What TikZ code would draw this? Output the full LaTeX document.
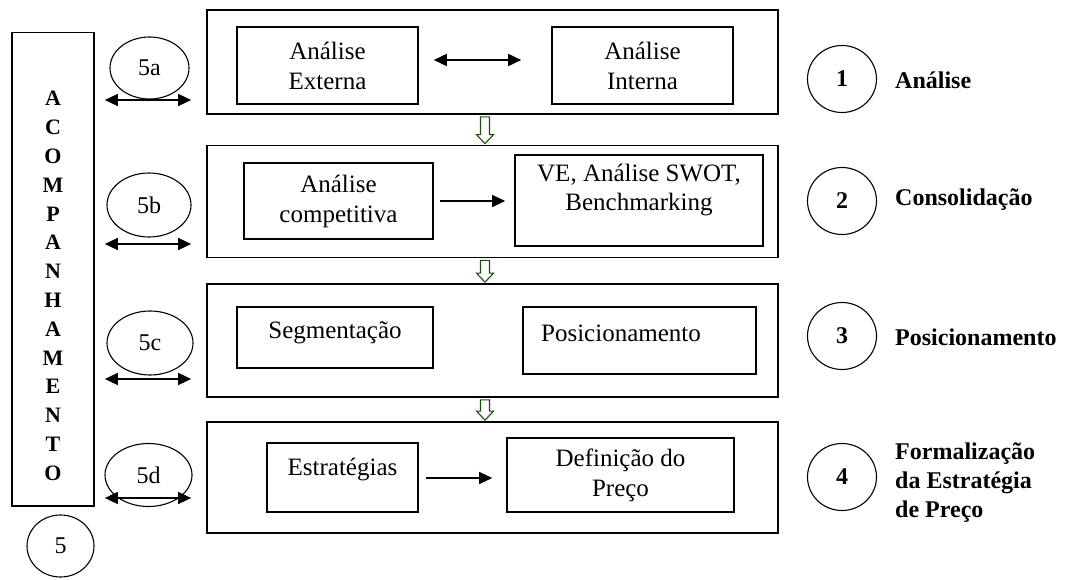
\documentclass[tikz,border=0pt]{standalone}
\usepackage{fontspec}
\setmainfont{Liberation Serif}
\usetikzlibrary{shapes.geometric,arrows.meta,calc}
\definecolor{flowgreen}{RGB}{25,80,15}
\tikzstyle{bigbox}=[draw, line width=1.7pt, minimum width=571pt, inner sep=0pt]
\tikzstyle{inbox}=[draw, line width=1.6pt, inner sep=0pt, align=center, font=\fontsize{25}{30}\selectfont]
\tikzstyle{intext}=[inner sep=0pt, align=center, font=\fontsize{25}{29}\selectfont]
\tikzstyle{oval}=[draw, ellipse, line width=1.1pt, inner sep=0pt, font=\fontsize{24}{28}\selectfont]
\tikzstyle{numcirc}=[draw, ellipse, line width=1.1pt, minimum width=69pt, minimum height=67pt, inner sep=0pt, font=\bfseries\fontsize{24}{28}\selectfont]
\tikzstyle{stage}=[anchor=west, align=left, inner sep=0pt, font=\bfseries\fontsize{24}{29}\selectfont]
\tikzstyle{both}=[{Triangle[length=13pt,width=12pt]}-{Triangle[length=13pt,width=12pt]}, line width=1.6pt]
\tikzstyle{onto}=[-{Triangle[length=13pt,width=12pt]}, line width=1.2pt]
\tikzstyle{flow}=[draw=flowgreen, line width=1.1pt, fill=white]
\newcommand{\flowdown}[2]{%
  \path[flow] let \p1=(#1.south), \p2=(#2.north) in
    (480.5pt,\y1-2pt) -- (489.5pt,\y1-2pt) -- (489.5pt,\y2+10pt) -- (493.5pt,\y2+10pt)
    -- (485pt,\y2+1pt) -- (476.5pt,\y2+10pt) -- (480.5pt,\y2+10pt) -- cycle;}

\begin{document}
\begin{tikzpicture}[x=1pt, y=-1pt]
\useasboundingbox (0,0) rectangle (1068,580);
% Acompanhamento
    \node[draw, line width=1.7pt, minimum width=82pt, minimum height=473.5pt, inner sep=0pt] (acomp) at (53,269.25) {};
    \node[align=center, inner sep=0pt, font=\bfseries\fontsize{22}{28.8}\selectfont] (acompt) at (53,286)
        {A\\C\\O\\M\\P\\A\\N\\H\\A\\M\\E\\N\\T\\O};
    \node[oval, minimum width=67pt, minimum height=62pt] (c5) at (60.5,546) {5};
% Stages
    \node[bigbox, minimum height=104pt] (ana) at (492.5,62) {};
    \node[bigbox, minimum height=112pt] (cons) at (492.5,201.5) {};
    \node[bigbox, minimum height=113pt] (posi) at (492.5,340.5) {};
    \node[bigbox, minimum height=111pt] (form) at (492.5,477.5) {};
% Inner boxes
    \node[inbox, minimum width=181pt, minimum height=77pt] (ext) at (327.5,65.5) {Análise\\Externa};
    \node[inbox, minimum width=181pt, minimum height=77pt] (int) at (642.5,65.5) {Análise\\Interna};
    \node[inbox, minimum width=189pt, minimum height=76pt] (comp) at (338.5,201) {Análise\\competitiva};
    \node[inbox, minimum width=248pt, minimum height=91pt] (ve) at (639,200.5) {};
    \node[intext] (vet) at (639,190) {VE, Análise SWOT,\\Benchmarking};
    \node[inbox, minimum width=196pt, minimum height=61pt] (segm) at (335,337.5) {};
    \node[intext] (segmt) at (335,333) {Segmentação};
    \node[inbox, minimum width=233pt, minimum height=67pt] (posbox) at (639.5,340.5) {};
    \node[intext] (post) at (621,333) {Posicionamento};
    \node[inbox, minimum width=151pt, minimum height=69pt] (estr) at (342.5,477.5) {};
    \node[intext] (estrt) at (342.5,470) {Estratégias};
    \node[inbox, minimum width=227pt, minimum height=74pt] (def) at (620.5,475) {Definição do\\Preço};
% Arrows inside
    \draw[both] ([xshift=15pt,yshift=5.5pt]ext.east) -- ([xshift=-30pt,yshift=5.5pt]int.west);
    \draw[onto] ([xshift=6pt]comp.east) -- ([xshift=-9pt]ve.west |- comp.east);
    \draw[onto] ([xshift=7pt,yshift=-0.5pt]estr.east) -- ([xshift=-14pt,yshift=-3pt]def.west);
% Flow between stages
    \flowdown{ana}{cons}
    \flowdown{cons}{posi}
    \flowdown{posi}{form}
% Follow-up links
    \node[oval, minimum width=79pt, minimum height=62pt] (e5a) at (149.5,68) {5a};
    \node[oval, minimum width=84pt, minimum height=64pt] (e5b) at (149,205) {5b};
    \node[oval, minimum width=86pt, minimum height=64pt] (e5c) at (150,343) {5c};
    \node[oval, minimum width=87pt, minimum height=63pt] (e5d) at (148.5,475) {5d};
    \coordinate (a5a) at (0,100);
    \coordinate (a5b) at (0,244);
    \coordinate (a5c) at (0,379);
    \coordinate (a5d) at (0,498);
    \foreach \a/\s in {a5a/ana, a5b/cons, a5c/posi, a5d/form}
        \draw[both, shorten <=10pt, shorten >=15pt] (acomp.east |- \a) -- (\s.west |- \a);
% Stage labels
    \node[numcirc] (c1) at (842,79) {1};
    \node[numcirc] (c2) at (842,201) {2};
    \node[numcirc] (c3) at (842,336) {3};
    \node[numcirc] (c4) at (842,477) {4};
    \node[stage] (l1) at (895,80) {Análise};
    \node[stage] (l2) at (895,200) {Consolidação};
    \node[stage] (l3) at (895,337) {Posicionamento};
    \node[stage] (l4) at (895,483) {Formalização\\da Estratégia\\de Preço};
\end{tikzpicture}
\end{document}
